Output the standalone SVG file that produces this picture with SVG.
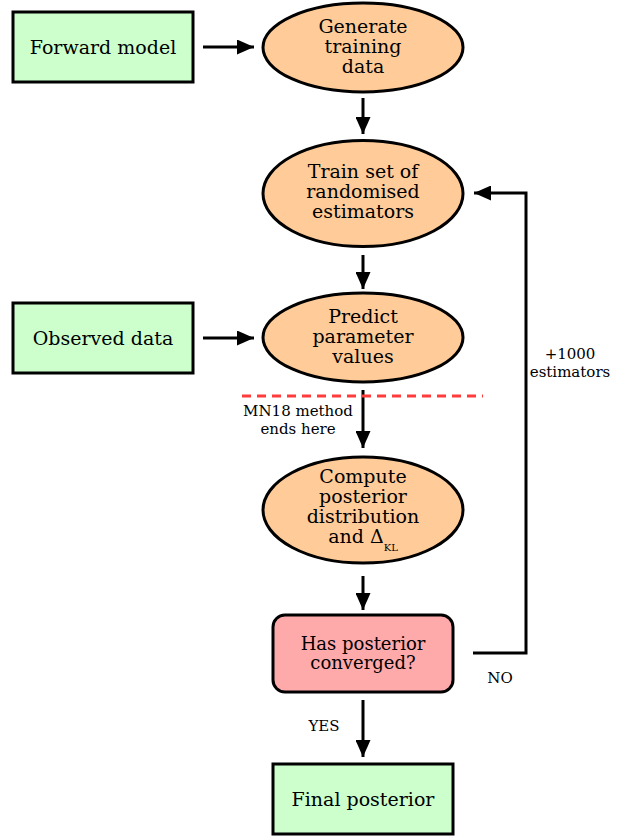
<svg xmlns="http://www.w3.org/2000/svg" width="628" height="836" viewBox="0 0 628 836">
<defs>
<style>
.box{fill:#ccffcc;stroke:#000;stroke-width:3}
.ell{fill:#ffcc99;stroke:#000;stroke-width:3}
.dec{fill:#ffaaaa;stroke:#000;stroke-width:3}
.t{font-family:"DejaVu Serif","Liberation Serif",serif;font-size:19px;fill:#000;text-anchor:middle}
.s{font-family:"DejaVu Serif","Liberation Serif",serif;font-size:15px;fill:#000;text-anchor:middle}
.c{fill:none;stroke:#000;stroke-width:3}
</style>
<marker id="ah" markerUnits="userSpaceOnUse" markerWidth="17" markerHeight="15" refX="17" refY="7.5" orient="auto">
<path d="M0,0 L17,7.5 L0,15 z" fill="#000"/>
</marker>
</defs>
<rect width="628" height="836" fill="#fff"/>
<g id="connectors">
<line class="c" x1="203" y1="47" x2="254" y2="47" marker-end="url(#ah)"/>
<line class="c" x1="203" y1="338" x2="254" y2="338" marker-end="url(#ah)"/>
<line class="c" x1="363" y1="98" x2="363" y2="134" marker-end="url(#ah)"/>
<line class="c" x1="363" y1="255" x2="363" y2="289" marker-end="url(#ah)"/>
<line class="c" x1="363" y1="390" x2="363" y2="448" marker-end="url(#ah)"/>
<line class="c" x1="363" y1="576" x2="363" y2="610" marker-end="url(#ah)"/>
<line class="c" x1="363" y1="700" x2="363" y2="757" marker-end="url(#ah)"/>
<polyline class="c" points="473,653 526,653 526,193 474,193" marker-end="url(#ah)"/>
<line x1="242" y1="396" x2="483" y2="396" stroke="#ff3b3b" stroke-width="3" stroke-dasharray="9 6"/>
<text class="s" x="298" y="416">MN18 method</text>
<text class="s" x="298" y="434">ends here</text>
<text class="s" x="570" y="359">+1000</text>
<text class="s" x="570" y="377">estimators</text>
<text class="s" x="324" y="731">YES</text>
<text class="s" x="500" y="683">NO</text>
</g>
<g id="forward">
<rect class="box" x="13" y="12" width="180" height="70"/>
<text class="t" x="103" y="54">Forward model</text>
</g>
<g id="observed">
<rect class="box" x="13" y="303" width="180" height="70"/>
<text class="t" x="103" y="345">Observed data</text>
</g>
<g id="generate">
<ellipse class="ell" cx="363" cy="47.5" rx="100" ry="44.5"/>
<text class="t" x="363" y="33">Generate</text>
<text class="t" x="363" y="53">training</text>
<text class="t" x="363" y="73">data</text>
</g>
<g id="train">
<ellipse class="ell" cx="363" cy="193.5" rx="100" ry="53"/>
<text class="t" x="363" y="178">Train set of</text>
<text class="t" x="363" y="198">randomised</text>
<text class="t" x="363" y="218">estimators</text>
</g>
<g id="predict">
<ellipse class="ell" cx="363" cy="337.5" rx="100" ry="44.5"/>
<text class="t" x="363" y="323">Predict</text>
<text class="t" x="363" y="343">parameter</text>
<text class="t" x="363" y="363">values</text>
</g>
<g id="compute">
<ellipse class="ell" cx="363" cy="510" rx="100" ry="53"/>
<text class="t" x="363" y="483">Compute</text>
<text class="t" x="363" y="503">posterior</text>
<text class="t" x="363" y="523">distribution</text>
<text class="t" x="363" y="543">and Δ<tspan font-size="10" dy="8">KL</tspan></text>
</g>
<g id="converged">
<rect class="dec" x="273" y="615" width="180" height="77" rx="12"/>
<text class="t" x="363" y="650" style="font-size:18px">Has posterior</text>
<text class="t" x="363" y="669" style="font-size:18px">converged?</text>
</g>
<g id="final">
<rect class="box" x="273" y="764" width="180" height="70"/>
<text class="t" x="363" y="806">Final posterior</text>
</g>
</svg>
